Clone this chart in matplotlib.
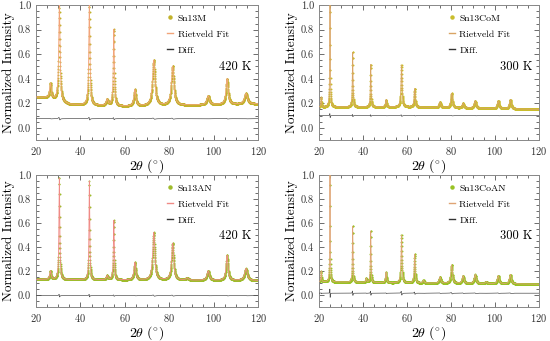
import numpy as np
import matplotlib.pyplot as plt
from matplotlib.ticker import MultipleLocator
from matplotlib.lines import Line2D

plt.rcParams['font.family'] = ['cmr10', 'DejaVu Serif']
plt.rcParams['mathtext.fontset'] = 'cm'
plt.rcParams['axes.formatter.use_mathtext'] = True

# --- data -----------------------------------------------------------------
# each sample: peak positions (2theta), peak tops (normalized), peak widths,
# background knots and the offset of the difference curve
names = ['Sn13M', 'Sn13CoM', 'Sn13AN', 'Sn13CoAN']
temps = ['420 K', '300 K', '420 K', '300 K']

m_pos = [26.5, 30.5, 44.0, 52.0, 55.0, 64.5, 73.0, 81.5, 97.5, 106.0, 114.5]
m_top = [0.36, 1.00, 1.00, 0.23, 0.80, 0.31, 0.55, 0.50, 0.26, 0.40, 0.28]
m_wid = [0.8, 0.7, 0.6, 0.9, 0.55, 1.0, 1.3, 1.3, 1.3, 1.1, 1.5]
m_bg_x = [20, 25, 35, 60, 90, 120]
m_bg_y = [0.25, 0.245, 0.19, 0.175, 0.185, 0.195]

com_pos = [21.0, 25.0, 35.3, 43.5, 50.5, 57.5, 63.5, 75.0, 80.3, 85.5, 91.0, 101.5, 107.0]
com_top = [0.25, 1.00, 0.62, 0.52, 0.23, 0.51, 0.32, 0.21, 0.28, 0.20, 0.22, 0.22, 0.23]
com_wid = [0.3, 0.3, 0.35, 0.35, 0.5, 0.55, 0.55, 0.8, 0.8, 0.8, 0.9, 0.9, 0.9]
com_bg_x = [20, 60, 120]
com_bg_y = [0.17, 0.17, 0.15]

an_pos = [26.5, 30.5, 44.0, 52.0, 55.0, 64.5, 73.0, 81.5, 88.0, 97.5, 106.0, 114.5]
an_top = [0.20, 0.98, 0.95, 0.16, 0.62, 0.27, 0.52, 0.43, 0.14, 0.20, 0.33, 0.22]
an_wid = [0.7, 0.45, 0.4, 0.8, 0.45, 0.9, 1.1, 1.1, 1.2, 1.2, 1.0, 1.4]
an_bg_x = [20, 60, 120]
an_bg_y = [0.13, 0.125, 0.12]

coan_pos = [21.0, 25.0, 35.3, 41.5, 43.5, 50.5, 57.5, 63.5, 67.5, 75.0, 80.3, 85.5, 91.0, 96.0, 101.5, 107.0]
coan_top = [0.20, 1.00, 0.58, 0.14, 0.54, 0.19, 0.50, 0.34, 0.12, 0.15, 0.25, 0.16, 0.17, 0.11, 0.16, 0.17]
coan_wid = [0.3, 0.25, 0.3, 0.4, 0.3, 0.5, 0.5, 0.5, 0.7, 0.8, 0.8, 0.8, 0.9, 0.9, 0.9, 0.9]
coan_bg_x = [20, 60, 120]
coan_bg_y = [0.11, 0.10, 0.09]

diff_off = [0.075, 0.10, -0.005, 0.015]
diff_amp = [0.04, 0.06, 0.04, 0.12]

data_col = ['#c2b22a', '#c9bd2c', '#9fbb2c', '#98c224']
fit_col = ['#f2a47a', '#d9a464', '#f08a86', '#dfa474']

samples = [(m_pos, m_top, m_wid, m_bg_x, m_bg_y),
           (com_pos, com_top, com_wid, com_bg_x, com_bg_y),
           (an_pos, an_top, an_wid, an_bg_x, an_bg_y),
           (coan_pos, coan_top, coan_wid, coan_bg_x, coan_bg_y)]

boxes = [[0.0655, 0.589, 0.404, 0.396],
         [0.580, 0.589, 0.400, 0.396],
         [0.0655, 0.0997, 0.404, 0.387],
         [0.580, 0.0997, 0.400, 0.387]]

tt = np.arange(20, 120.01, 0.04)

fig = plt.figure(figsize=(5.5, 3.41), dpi=100)

for i in range(4):
    pos, top, wid, bgx, bgy = samples[i]
    bg = np.interp(tt, bgx, bgy)
    prof = bg.copy()
    dif = np.full_like(tt, diff_off[i])
    for p, h, w in zip(pos, top, wid):
        base = np.interp(p, bgx, bgy)
        u = (tt - p) / (w / 2)
        prof += (h - base) / (1 + u ** 2)
        # small residual wiggle at each reflection
        dif += -diff_amp[i] * (h - base) * u / (1 + u ** 2) ** 2

    ax = fig.add_axes(boxes[i])
    ax.plot(tt, prof, 'o', ms=1.4, mec='none', color=data_col[i], zorder=2)
    ax.plot(tt, prof, '-', lw=0.6, color=fit_col[i], zorder=3)
    ax.plot(tt, dif, '-', lw=0.5, color='#505050', zorder=3)

    ax.set_xlim(20, 120)
    ax.set_ylim(-0.1, 1.0)
    ax.xaxis.set_major_locator(MultipleLocator(20))
    ax.xaxis.set_minor_locator(MultipleLocator(5))
    ax.yaxis.set_major_locator(MultipleLocator(0.2))
    ax.yaxis.set_minor_locator(MultipleLocator(0.05))
    ax.yaxis.set_major_formatter(plt.FormatStrFormatter('%.1f'))
    ax.tick_params(which='both', direction='in', top=True, right=True,
                   labelsize=7.5, colors='#555555', labelcolor='#333333', width=0.6)
    ax.tick_params(which='major', length=3.5)
    ax.tick_params(which='minor', length=2)
    for s in ax.spines.values():
        s.set_color('#888888')
        s.set_linewidth(0.7)
    ax.set_xlabel(r'$2\theta\ (^{\circ})$', fontsize=10, labelpad=0)
    ax.set_ylabel('Normalized Intensity', fontsize=9.5, labelpad=2)

    handles = [Line2D([], [], ls='none', marker='o', ms=2.2, color=data_col[i]),
               Line2D([], [], color=fit_col[i], lw=1),
               Line2D([], [], color='#333333', lw=1)]
    ax.legend(handles, [names[i], 'Rietveld Fit', 'Diff.'], loc='upper left',
              bbox_to_anchor=(0.55, 1.0), frameon=False, fontsize=7,
              handlelength=0.6, handletextpad=0.5, labelspacing=0.75)
    ax.text(0.97, 0.54, temps[i], transform=ax.transAxes, ha='right',
            va='center', fontsize=9)

fig.savefig('out.png', dpi=100)
